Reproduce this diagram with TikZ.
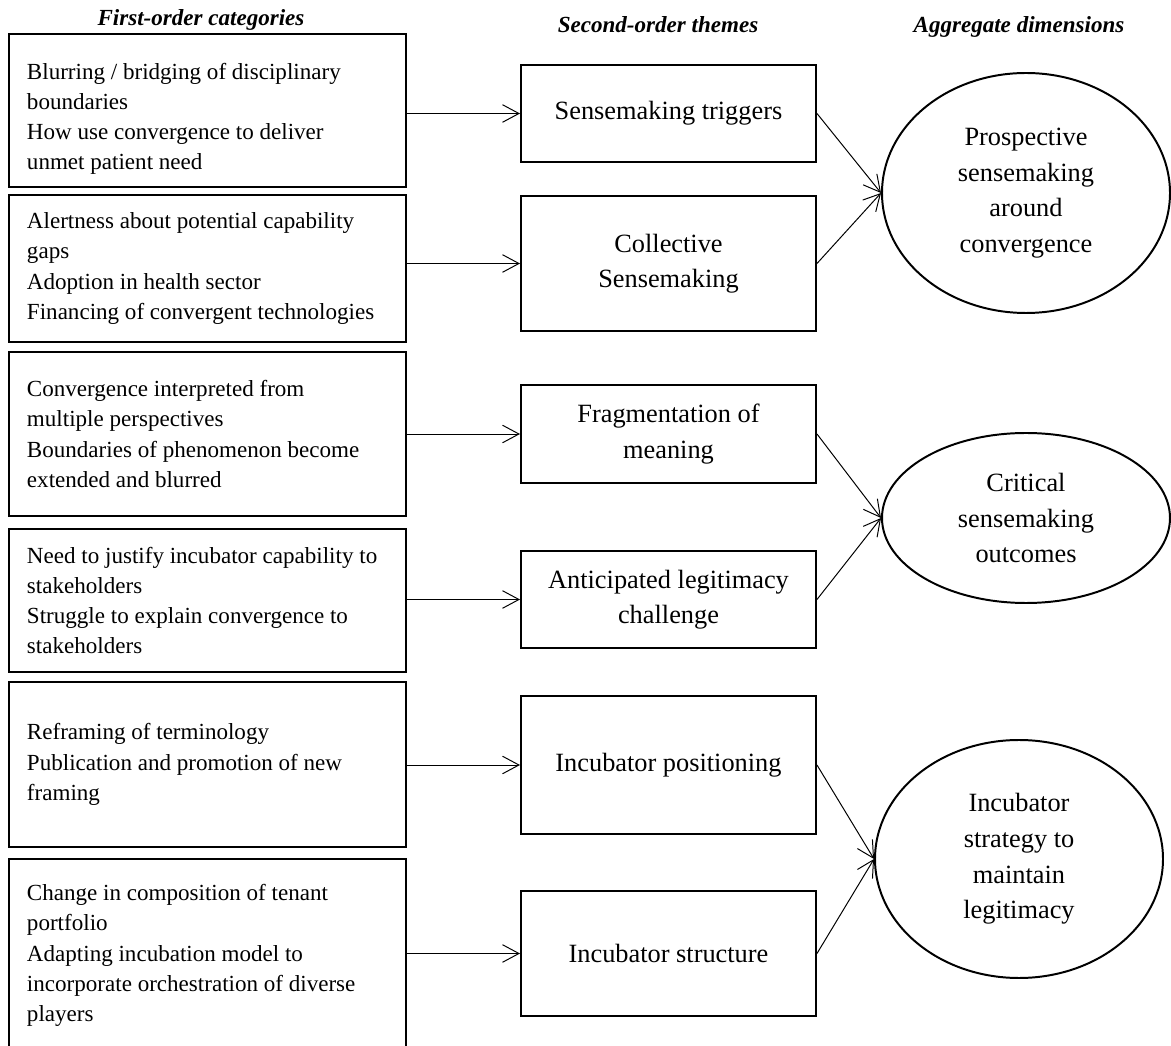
\documentclass[tikz,border=0pt]{standalone}
\usepackage{fontspec}
\setmainfont{Liberation Serif}
\usetikzlibrary{positioning,shapes.geometric,arrows.meta}
\newlength\px
\setlength\px{0.016cm}

\begin{document}
\begin{tikzpicture}[x=0.016cm,y=-0.016cm,
  catbox/.style={draw,line width=0.9pt,rectangle,text width=361\px,inner xsep=18\px,inner ysep=0pt,align=left,
    execute at begin node={\spaceskip=0pt\xspaceskip=0pt\relax},font=\fontsize{10.5}{13.8}\selectfont},
  themebox/.style={draw,line width=0.9pt,rectangle,minimum width=295\px,inner sep=0pt,align=center,font=\fontsize{12}{16.2}\selectfont},
  dimnode/.style={draw,line width=0.9pt,ellipse,minimum width=288\px,inner sep=0pt,align=center,font=\fontsize{12}{16.2}\selectfont},
  head/.style={inner sep=0pt,font=\fontsize{10.5}{13}\selectfont\bfseries\itshape},
  link/.style={-{Straight Barb[length=7.5pt,width=8pt]},line width=0.45pt}]
\useasboundingbox (0,0) rectangle (1171,1046);
\node[head] (h1) at (201,20) {First-order categories};
\node[head] (h2) at (658,25) {Second-order themes};
\node[head] (h3) at (1019,27) {Aggregate dimensions};

\node[catbox,minimum height=153\px] (cat1) at (207.5,110.5) {\rule{0pt}{15pt}Blurring / bridging of disciplinary\\boundaries\\How use convergence to deliver\\unmet patient need};
\node[catbox,minimum height=147\px] (cat2) at (207.5,268.5) {Alertness about potential capability\\gaps\\Adoption in health sector\\Financing of convergent technologies};
\node[catbox,minimum height=164\px] (cat3) at (207.5,434) {Convergence interpreted from\\multiple perspectives\\Boundaries of phenomenon become\\extended and blurred};
\node[catbox,minimum height=143\px] (cat4) at (207.5,600.5) {Need to justify incubator capability to\\stakeholders\\Struggle to explain convergence to\\stakeholders};
\node[catbox,minimum height=165\px] (cat5) at (207.5,764.5) {Reframing of terminology\\Publication and promotion of new\\framing};
\node[catbox,minimum height=193\px] (cat6) at (207.5,955.5) {Change in composition of tenant\\portfolio\\Adapting incubation model to\\incorporate orchestration of diverse\\players};

\node[themebox,minimum height=97\px] (trig) at (668.5,113.5) {Sensemaking triggers};
\node[themebox,minimum height=135\px] (coll) at (668.5,263.5) {Collective\\Sensemaking};
\node[themebox,minimum height=98\px] (frag) at (668.5,434) {Fragmentation of\\meaning};
\node[themebox,minimum height=97\px] (legit) at (668.5,599.5) {Anticipated legitimacy\\challenge};
\node[themebox,minimum height=138\px] (posn) at (668.5,765) {Incubator positioning};
\node[themebox,minimum height=125\px] (struct) at (668.5,953.5) {Incubator structure};

\node[dimnode,minimum height=240\px] (prosp) at (1026,193) {Prospective\\sensemaking\\around\\convergence};
\node[dimnode,minimum height=170\px] (crit) at (1026,518) {Critical\\sensemaking\\outcomes};
\node[dimnode,minimum height=238\px] (strat) at (1019,859) {Incubator\\strategy to\\maintain\\legitimacy};

\draw[link] (cat1.east |- trig.west) -- (trig.west);
\draw[link] (cat2.east |- coll.west) -- (coll.west);
\draw[link] (cat3.east |- frag.west) -- (frag.west);
\draw[link] (cat4.east |- legit.west) -- (legit.west);
\draw[link] (cat5.east |- posn.west) -- (posn.west);
\draw[link] (cat6.east |- struct.west) -- (struct.west);

\draw[link] (trig.east) -- (prosp.west);
\draw[link] (coll.east) -- (prosp.west);
\draw[link] (frag.east) -- (crit.west);
\draw[link] (legit.east) -- (crit.west);
\draw[link] (posn.east) -- (strat.west);
\draw[link] (struct.east) -- (strat.west);
\end{tikzpicture}
\end{document}
